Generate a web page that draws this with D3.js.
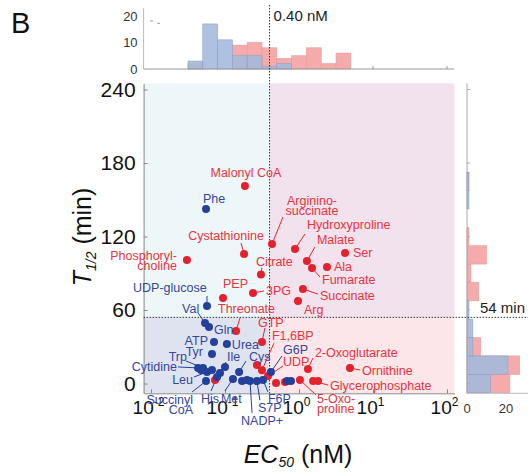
<!DOCTYPE html>
<html lang="en">
<head>
<meta charset="UTF-8">
<title>EC50 vs T1/2</title>
<style>
  body { margin: 0; background: #fff; }
  svg text { font-family: "Liberation Sans", Arial, sans-serif; }
  .lab { font-size: 12.5px; }
</style>
</head>
<body>
<svg width="532" height="474"></svg>
<script src="https://cdn.jsdelivr.net/npm/d3@7"></script>
<script>
// ---- data ----
const redNames = ["Malonyl CoA", "Cystathionine", "Phosphorylcholine", "Argininosuccinate", "Hydroxyproline",
  "Malate", "Citrate", "Ser", "Ala", "Fumarate", "Succinate", "Arg", "3PG", "PEP", "Threonate", "GTP",
  "F1,6BP", "UDP", "2-Oxoglutarate", "Ornithine", "Glycerophosphate", "5-Oxoproline", "", "", "", "", ""];
const redEC50 = [0.186, 0.181, 0.0306, 0.432, 0.883, 1.28, 0.306, 4.19, 2.39, 1.50, 1.13, 0.97, 0.239, 0.094,
  0.141, 0.316, 0.316, 0.381, 1.32, 4.89, 1.55, 1.03, 0.27, 1.81, 0.489, 0.647, 0.0733];
const redT = [161.2, 105.7, 100.8, 113.9, 109.8, 100.0, 89.0, 106.5, 95.1, 94.3, 77.1, 67.3, 73.9, 69.8,
  42.9, 33.9, 10.9, 6.1, 11.8, 12.7, 2.0, 2.9, 15.1, 2.0, 0.4, 1.2, 2.9];

const blueNames = ["Phe", "UDP-glucose", "Val", "Gln", "ATP", "Urea", "Tyr", "Trp", "Cytidine", "Ile", "Cys",
  "Leu", "Succinyl CoA", "His", "Met", "NADP+", "S7P", "F6P", "G6P", "", "", "", "", "", "", ""];
const blueEC50 = [0.0554, 0.0571, 0.0537, 0.0608, 0.071, 0.106, 0.0667, 0.0504, 0.0432, 0.0856, 0.155,
  0.0571, 0.0554, 0.078, 0.128, 0.218, 0.27, 0.326, 0.418, 0.1, 0.17, 0.198, 0.689, 0.78, 0.0667, 0.0474];
const blueT = [142.4, 63.3, 49.4, 46.1, 33.9, 32.2, 24.1, 12.7, 12.7, 8.6, 9.4, 9.4, 2.0, 5.3, 3.7, 2.0,
  2.0, 2.9, 9.4, 13.5, 2.0, 2.9, 2.0, 2.0, 11, 11];

// top histogram: bins of 0.2 in log10(EC50), lower edges
const topEdges = [-1.5, -1.3, -1.1, -0.9, -0.7, -0.5, -0.3, -0.1, 0.1, 0.3, 0.5];
const topBlue = [3, 17, 11, 5, 5, 1, 2, 0, 0, 0, 0];
const topRed = [2, 0, 0, 9, 10, 8, 4, 5, 8, 2, 6];

// right histogram: 15 min bins (centres)
const rightCenters = [0, 15, 30, 45, 60, 75, 90, 105, 120, 135, 150, 165];
const rightBlue = [12, 21, 3, 3, 1, 0, 0, 0, 0, 0, 1, 1];
const rightRed = [22, 27, 7, 1, 0, 6, 2, 10, 1, 0, 0, 1];

const ecCut = 0.40;   // nM
const tCut = 54;      // min
const xTicks = [0.01, 0.1, 1, 10, 100];
const yTicks = [0, 60, 120, 180, 240];

// label placement (pixel offsets from the dot)
const labelLayout = {
  "Malonyl CoA": {dx: 1, dy: -13, a: "middle"},
  "Cystathionine": {dx: -18, dy: -18, a: "middle", lead: [-3, -11]},
  "Phosphorylcholine": {dx: -10, dy: -4, a: "end", lines: ["Phosphoryl-", "choline"]},
  "Argininosuccinate": {dx: 40, dy: -43, a: "middle", lines: ["Arginino-", "succinate"], lead: [11, -27]},
  "Hydroxyproline": {dx: 12, dy: -24, lead: [10, -15]},
  "Malate": {dx: 10, dy: -21, lead: [8, -14]},
  "Citrate": {dx: -5, dy: -13, lead: [1, -7]},
  "Ser": {dx: 8, dy: 0},
  "Ala": {dx: 7, dy: 0},
  "Fumarate": {dx: 10, dy: 12, lead: [8, 9]},
  "Succinate": {dx: 17, dy: 7, lead: [15, 5]},
  "Arg": {dx: 6, dy: 9},
  "3PG": {dx: 13, dy: -2, lead: [11, -2]},
  "PEP": {dx: 0, dy: -14},
  "Threonate": {dx: -18, dy: -22, lead: [4, -13]},
  "GTP": {dx: -4, dy: -19, lead: [3, -14]},
  "F1,6BP": {dx: 10, dy: -35, lead: [12, -27]},
  "UDP": {dx: 15, dy: -14, lead: [15, -10]},
  "2-Oxoglutarate": {dx: 7, dy: -16, lead: [5, -11]},
  "Ornithine": {dx: 12, dy: 3, lead: [10, 2]},
  "Glycerophosphate": {dx: 17, dy: 5, lead: [15, 4]},
  "5-Oxoproline": {dx: 17, dy: 19, lines: ["5-Oxo-", "proline"], lead: [16, 15]},
  "Phe": {dx: -3, dy: -10},
  "UDP-glucose": {dx: -74, dy: -18, lead: [0, -10]},
  "Val": {dx: -23, dy: -14, lead: [-7, -10]},
  "Gln": {dx: 5, dy: 3},
  "ATP": {dx: -6, dy: -1, a: "end"},
  "Urea": {dx: 5, dy: 1},
  "Tyr": {dx: -9, dy: -2, a: "end"},
  "Trp": {dx: -16, dy: -11, a: "end", lead: [-17, -7]},
  "Cytidine": {dx: -21, dy: -1, a: "end", lead: [-20, -1]},
  "Ile": {dx: 7, dy: -16, lead: [6, -11]},
  "Cys": {dx: 10, dy: -15, lead: [7, -11]},
  "Leu": {dx: -14, dy: 8, a: "end", lead: [-13, 5]},
  "Succinyl CoA": {dx: -13, dy: 19, a: "end", lines: ["Succinyl", "CoA"], lead: [-14, 11]},
  "His": {dx: -16, dy: 22, lead: [-6, 14]},
  "Met": {dx: -12, dy: 20, lead: [-8, 12]},
  "NADP+": {dx: 12, dy: 40, a: "middle", lead: [2, 32]},
  "S7P": {dx: 1, dy: 27, lead: [3, 19]},
  "F6P": {dx: 5, dy: 19, lead: [5, 12]},
  "G6P": {dx: 12, dy: -22, lead: [11, -16]}
};

// ---- drawing ----
const svg = d3.select("svg");
const RED = "#e3222e", BLUE = "#23409a";
const RED_T = "#e5343e", BLUE_T = "#34479f";

const x = d3.scaleLog().domain([Math.pow(10, -2.1), Math.pow(10, 2.1)]).range([143.6, 454.4]);
const y = d3.scaleLinear().domain([-8, 245]).range([393.3, 83.4]);
const yH = d3.scaleLinear().domain([0, 20]).range([69, 16]);
const xR = d3.scaleLinear().domain([0, 20]).range([467, 506]);

const x0 = x.range()[0], x1 = x.range()[1];
const yTop = y.range()[1], yBot = y.range()[0];
const xs = x(ecCut), ys = y(tCut);

// quadrant backgrounds
const quads = [
  [x0, yTop, xs, ys, "#edf7f9"],
  [xs, yTop, x1, ys, "#f2e2ee"],
  [x0, ys, xs, yBot, "#dfe3f0"],
  [xs, ys, x1, yBot, "#fce6e9"]
];
svg.append("g").selectAll("rect").data(quads).join("rect")
  .attr("x", d => d[0]).attr("y", d => d[1])
  .attr("width", d => d[2] - d[0]).attr("height", d => d[3] - d[1])
  .attr("fill", d => d[4]);

// top histogram
const topG = svg.append("g");
const tb = topEdges.map((e, i) => ({e, b: topBlue[i], r: topRed[i]}));
topG.selectAll(".hr").data(tb.filter(d => d.r > 0)).join("rect")
  .attr("x", d => x(Math.pow(10, d.e))).attr("width", d => x(Math.pow(10, d.e + 0.2)) - x(Math.pow(10, d.e)))
  .attr("y", d => yH(d.r)).attr("height", d => yH(0) - yH(d.r))
  .attr("fill", "#f5abab").attr("stroke", "#e79a9c").attr("stroke-width", 0.6);
topG.selectAll(".hb").data(tb.filter(d => d.b > 0)).join("rect")
  .attr("x", d => x(Math.pow(10, d.e))).attr("width", d => x(Math.pow(10, d.e + 0.2)) - x(Math.pow(10, d.e)))
  .attr("y", d => yH(d.b)).attr("height", d => yH(0) - yH(d.b))
  .attr("fill", "#a3b8dc").attr("fill-opacity", 0.88).attr("stroke", "#8da2c6").attr("stroke-width", 0.6);

topG.append("line").attr("x1", x0).attr("x2", x1).attr("y1", yH(0)).attr("y2", yH(0)).attr("stroke", "#999");
topG.append("line").attr("x1", x0).attr("x2", x0).attr("y1", 8).attr("y2", yH(0)).attr("stroke", "#bbb");
topG.selectAll(".tt").data([10, 100]).join("line")
  .attr("x1", d => x(d)).attr("x2", d => x(d)).attr("y1", yH(0)).attr("y2", yH(0) - 3).attr("stroke", "#999");
topG.selectAll(".tl").data([0, 10, 20]).join("text")
  .attr("x", x0 - 6).attr("y", d => yH(d)).attr("dy", "0.35em")
  .attr("text-anchor", "end").attr("font-size", 13).attr("fill", "#333").text(d => d);
topG.selectAll(".lg").data([0, 7]).join("line")
  .attr("x1", d => 150 + d).attr("x2", d => 153 + d).attr("y1", d => 21 + d / 3).attr("y2", d => 21 + d / 3)
  .attr("stroke", "#888").attr("stroke-width", 0.8);

// right histogram
const rightG = svg.append("g");
const rb = rightCenters.map((c, i) => ({c, b: rightBlue[i], r: rightRed[i]}));
rightG.selectAll(".hr").data(rb.filter(d => d.r > 0)).join("rect")
  .attr("x", xR(0)).attr("width", d => xR(d.r) - xR(0))
  .attr("y", d => y(d.c + 7.5)).attr("height", d => y(d.c - 7.5) - y(d.c + 7.5))
  .attr("fill", "#f5abab").attr("stroke", "#e79a9c").attr("stroke-width", 0.6);
rightG.selectAll(".hb").data(rb.filter(d => d.b > 0)).join("rect")
  .attr("x", xR(0)).attr("width", d => xR(d.b) - xR(0))
  .attr("y", d => y(d.c + 7.5)).attr("height", d => y(d.c - 7.5) - y(d.c + 7.5))
  .attr("fill", "#a3b8dc").attr("fill-opacity", 0.88).attr("stroke", "#8da2c6").attr("stroke-width", 0.6);
rightG.append("line").attr("x1", xR(0)).attr("x2", xR(0)).attr("y1", yTop).attr("y2", yBot).attr("stroke", "#aaa");
rightG.append("line").attr("x1", xR(0)).attr("x2", 528).attr("y1", yBot).attr("y2", yBot).attr("stroke", "#bbb");
rightG.selectAll(".rt").data(yTicks).join("line")
  .attr("x1", xR(0)).attr("x2", xR(0) + 3).attr("y1", d => y(d)).attr("y2", d => y(d)).attr("stroke", "#aaa");
rightG.selectAll(".rl").data([0, 20]).join("text")
  .attr("x", d => xR(d)).attr("y", 413).attr("text-anchor", "middle")
  .attr("font-size", 13).attr("fill", "#333").text(d => d);

// axes of main plot
const gy = svg.append("g").attr("transform", `translate(${x0},0)`)
  .call(d3.axisLeft(y).tickValues(yTicks).tickSize(-4).tickPadding(8).tickSizeOuter(0));
gy.select(".domain").attr("stroke", "#888");
gy.selectAll(".tick line").attr("stroke", "#888");
gy.selectAll(".tick text").attr("font-size", 21).attr("fill", "#111")
  .attr("font-family", "'Liberation Sans', Arial, sans-serif");

const gx = svg.append("g").attr("transform", `translate(0,${yBot})`)
  .call(d3.axisBottom(x).tickValues(xTicks).tickSize(-4).tickSizeOuter(0).tickFormat(""));
gx.select(".domain").attr("stroke", "#888");
gx.selectAll(".tick line").attr("stroke", "#888");
gx.selectAll(".tick").each(function(d) {
  const t = d3.select(this).append("text").attr("x", -3).attr("y", 21).attr("text-anchor", "middle")
    .attr("fill", "#111").attr("font-size", 19);
  t.append("tspan").text("10");
  t.append("tspan").attr("dy", -8).attr("font-size", 12).text(Math.round(Math.log10(d)));
});

// threshold lines
svg.append("line").attr("x1", xs).attr("x2", xs).attr("y1", 5).attr("y2", yBot)
  .attr("stroke", "#333").attr("stroke-width", 1).attr("stroke-dasharray", "1.5,1.5");
svg.append("line").attr("x1", x0).attr("x2", 528).attr("y1", ys).attr("y2", ys)
  .attr("stroke", "#333").attr("stroke-width", 1).attr("stroke-dasharray", "1.5,1.5");
svg.append("text").attr("x", xs + 4).attr("y", 21).attr("font-size", 15).attr("fill", "#222").text("0.40 nM");
svg.append("text").attr("x", 480).attr("y", 313).attr("font-size", 15).attr("fill", "#222").text("54 min");

// points
const pts = [];
redNames.forEach((n, i) => pts.push({name: n, ec: redEC50[i], t: redT[i], c: RED, tc: RED_T}));
blueNames.forEach((n, i) => pts.push({name: n, ec: blueEC50[i], t: blueT[i], c: BLUE, tc: BLUE_T}));

const labelled = pts.filter(d => d.name && labelLayout[d.name]);
svg.append("g").selectAll("line").data(labelled.filter(d => labelLayout[d.name].lead)).join("line")
  .attr("x1", d => x(d.ec) + labelLayout[d.name].lead[0])
  .attr("y1", d => y(d.t) + labelLayout[d.name].lead[1])
  .attr("x2", d => x(d.ec)).attr("y2", d => y(d.t))
  .attr("stroke", d => d.c).attr("stroke-width", 1);

svg.append("g").selectAll("circle").data(pts).join("circle")
  .attr("cx", d => x(d.ec)).attr("cy", d => y(d.t)).attr("r", 4)
  .attr("fill", d => d.c);

const lg = svg.append("g");
labelled.forEach(d => {
  const L = labelLayout[d.name];
  const lines = L.lines || [d.name];
  const t = lg.append("text").attr("class", "lab")
    .attr("text-anchor", L.a || "start").attr("fill", d.tc);
  lines.forEach((s, k) => {
    t.append("tspan").attr("x", x(d.ec) + L.dx).attr("y", y(d.t) + L.dy + k * 10)
      .attr("dy", "0.35em").text(s);
  });
});

// titles
const yt = svg.append("text").attr("transform", "translate(91,237) rotate(-90)")
  .attr("text-anchor", "middle").attr("font-size", 25).attr("fill", "#111");
yt.append("tspan").attr("font-style", "italic").text("T");
yt.append("tspan").attr("font-style", "italic").attr("font-size", 14).attr("dy", 5).text("1/2");
yt.append("tspan").attr("dy", -5).text(" (min)");

const xt = svg.append("text").attr("x", 298).attr("y", 463)
  .attr("text-anchor", "middle").attr("font-size", 25).attr("fill", "#111");
xt.append("tspan").attr("font-style", "italic").text("EC");
xt.append("tspan").attr("font-style", "italic").attr("font-size", 14).attr("dy", 4).text("50");
xt.append("tspan").attr("dy", -4).text(" (nM)");

svg.append("text").attr("x", 11).attr("y", 33).attr("font-size", 29).attr("fill", "#111").text("B");
</script>
</body>
</html>
